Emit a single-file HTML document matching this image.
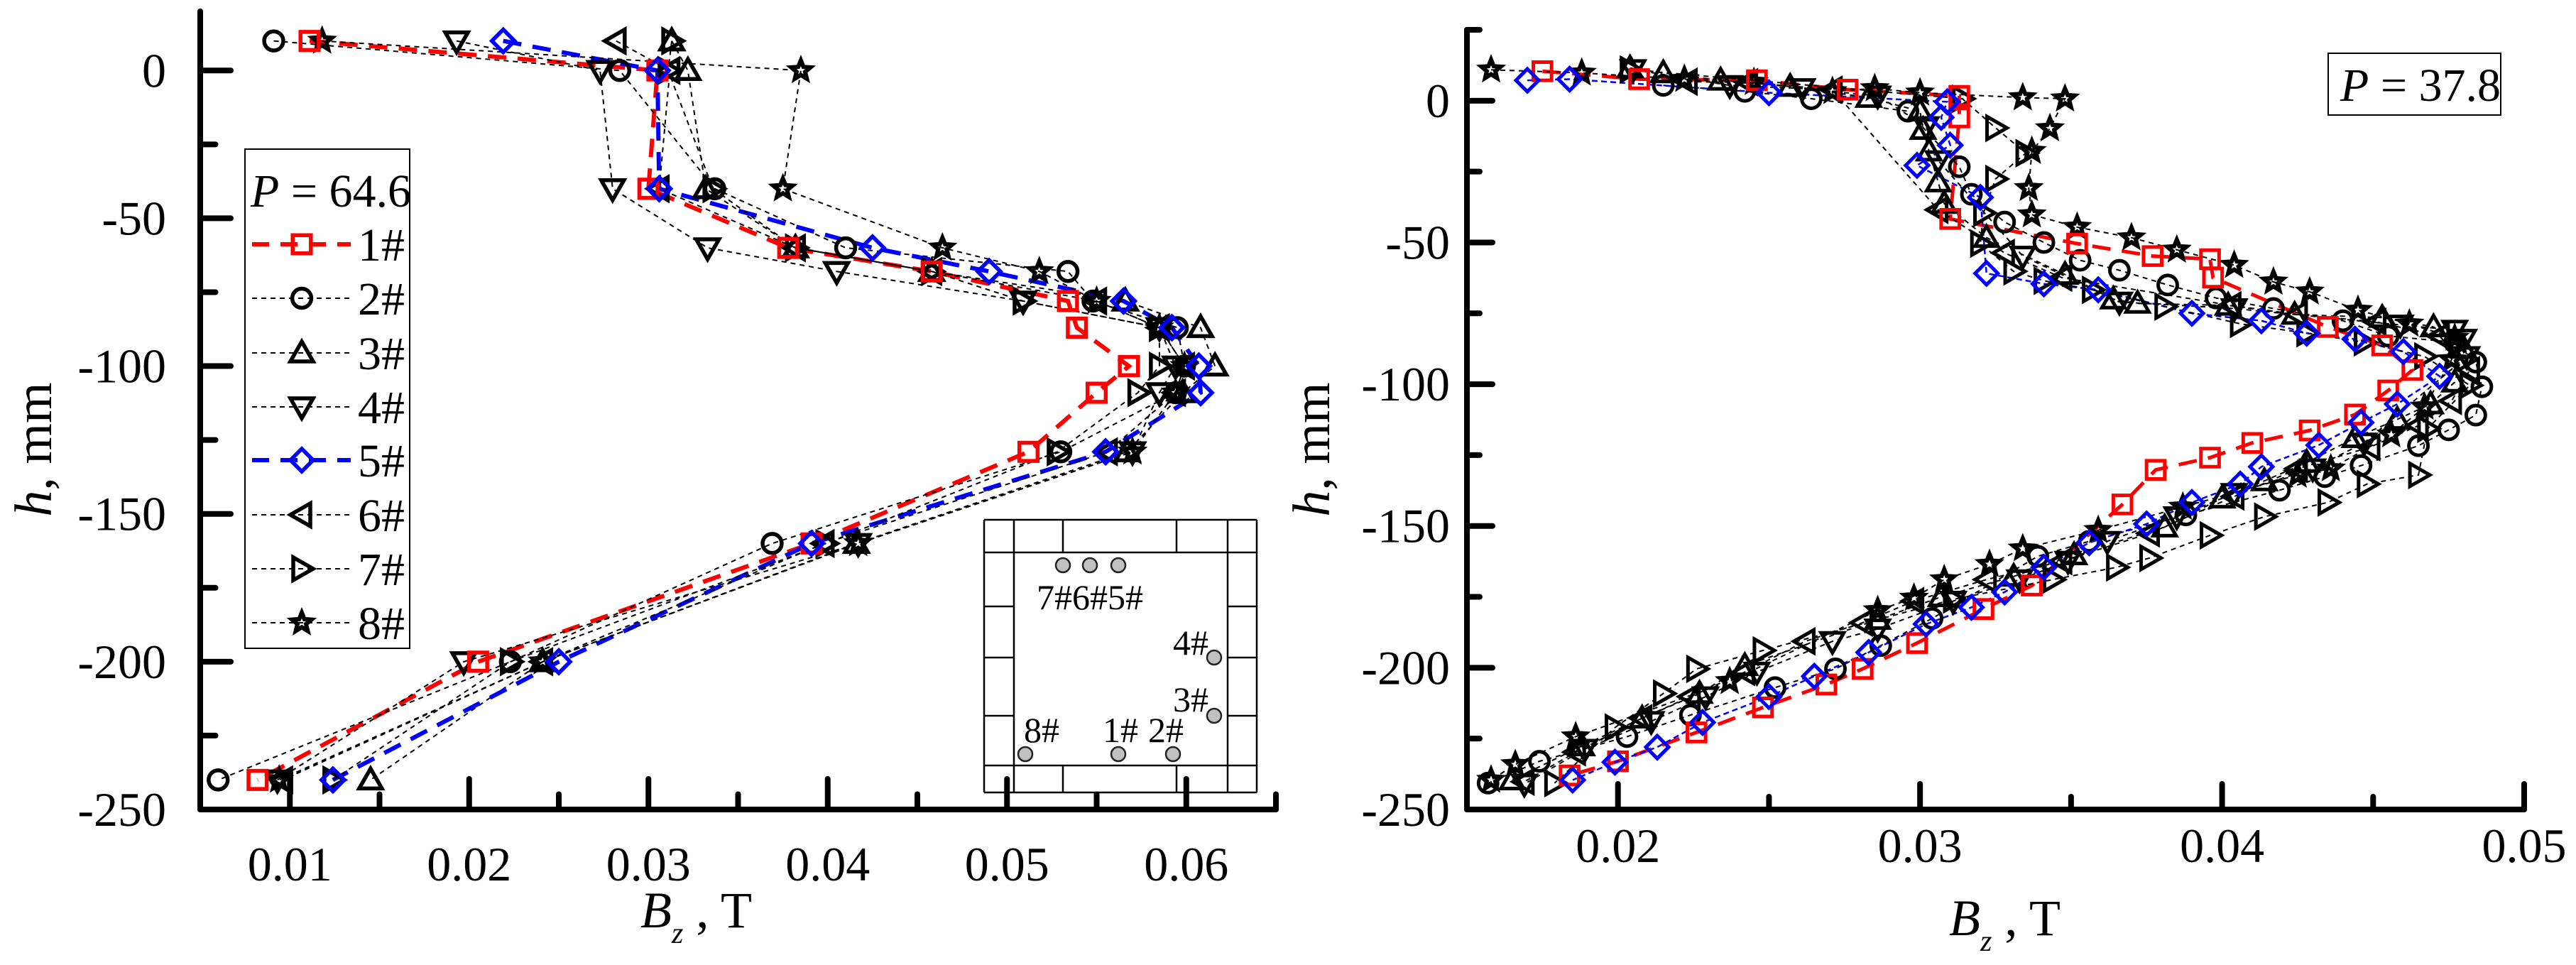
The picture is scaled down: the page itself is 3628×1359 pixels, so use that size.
<!DOCTYPE html>
<html><head><meta charset="utf-8"><style>
html,body{margin:0;padding:0;background:#fff;}
svg{display:block;font-family:"Liberation Serif",serif;}
text{font-family:"Liberation Serif",serif;}
</style></head><body>
<svg id="chart" width="3628" height="1359" viewBox="0 0 3628 1359" xmlns="http://www.w3.org/2000/svg" font-family="Liberation Serif, serif"></svg>
<script>
// ---------- LEFT PANEL DATA (P = 64.6) ----------
const leftSeriesNames = ["1#","2#","3#","4#","5#","6#","7#","8#"];
const leftH = [10,0,-40,-60,-68,-78,-87,-100,-109,-129,-160,-200,-240];
const leftB1 = [0.0111,0.0305,0.0300,0.0378,0.0458,0.0534,0.0539,0.0568,0.0550,0.0512,0.0391,0.0205,0.0082];
const leftB2 = [0.0091,0.0284,0.0337,0.0410,0.0534,0.0548,0.0595,0.0599,0.0594,0.0530,0.0369,0.0223,0.0060];
const leftB3 = [0.0313,0.0322,0.0332,0.0382,0.0458,0.0566,0.0608,0.0616,0.0598,0.0567,0.0416,0.0241,0.0145];
const leftB4 = [0.0193,0.0273,0.0280,0.0333,0.0405,0.0509,0.0585,0.0594,0.0585,0.0570,0.0417,0.0197,0.0093];
const leftB5 = [0.0219,0.0305,0.0306,0.0425,0.0490,0.0565,0.0592,0.0607,0.0608,0.0555,0.0391,0.0250,0.0124];
const leftB6 = [0.0282,0.0312,0.0306,0.0382,0.0458,0.0550,0.0585,0.0599,0.0594,0.0556,0.0398,0.0241,0.0096];
const leftB7 = [0.0313,0.0311,0.0336,0.0382,0.0458,0.0509,0.0585,0.0585,0.0573,0.0528,0.0399,0.0223,0.0124];
const leftB8 = [0.0118,0.0385,0.0375,0.0464,0.0518,0.0550,0.0585,0.0599,0.0594,0.0570,0.0417,0.0241,0.0094];
const leftXTicks = [0.01,0.02,0.03,0.04,0.05,0.06];
const leftXTickLabels = ["0.01","0.02","0.03","0.04","0.05","0.06"];
const leftYTicks = [0,-50,-100,-150,-200,-250];
const leftYTickLabels = ["0","-50","-100","-150","-200","-250"];

// ---------- RIGHT PANEL DATA (P = 37.8) ----------
const r1B = [0.0175,0.0207,0.0246,0.0276,0.0313,0.0313,0.0310,0.0352,0.0377,0.0396,0.0397,0.0435,0.0453,0.0463,0.0455,0.0444,0.0429,0.0410,0.0396,0.0378,0.0367,0.0337,0.0321,0.0299,0.0281,0.0269,0.0248,0.0226,0.0200,0.0184];
const r1H = [10.4,7.6,7.2,3.9,1.7,-5.9,-41.7,-50.4,-54.8,-55.9,-62.4,-79.8,-86.3,-95,-102.2,-110.7,-116.3,-120.7,-125.9,-130.2,-142.4,-171,-179.3,-191.3,-200.4,-205.9,-214,-222.8,-233,-238];
const r2B = [0.0215,0.0242,0.0264,0.0296,0.0313,0.0317,0.0328,0.0341,0.0353,0.0366,0.0382,0.0398,0.0417,0.0440,0.0455,0.0477,0.0484,0.0486,0.0484,0.0475,0.0465,0.0446,0.0434,0.0419,0.0388,0.0356,0.0339,0.0304,0.0287,0.0272,0.0252,0.0224,0.0203,0.0174,0.0157];
const r2H = [5.4,3.3,0.7,-3.7,-23.3,-33,-42.8,-50,-56.3,-59.8,-65,-69.6,-73.3,-77.6,-83,-85.2,-92.2,-100.9,-110.9,-116.1,-121.7,-128.7,-132.6,-137.4,-146.1,-155.4,-160.7,-182.6,-192.2,-200.4,-207,-216.7,-224.3,-233,-240.7];
const r3B = [0.0204,0.0215,0.0234,0.0257,0.0283,0.0300,0.0301,0.0303,0.0306,0.0308,0.0322,0.0348,0.0364,0.0372,0.0402,0.0424,0.0453,0.0470,0.0480,0.0477,0.0469,0.0458,0.0444,0.0428,0.0414,0.0400,0.0381,0.0351,0.0331,0.0307,0.0286,0.0242,0.0227,0.0208,0.0188,0.0165];
const r3H = [11.5,9.8,7.2,5,1.1,-3.7,-10.2,-17.8,-28.7,-36.3,-48.3,-61.3,-70,-71.5,-72.2,-75.4,-76.5,-79.8,-87.4,-99.3,-107,-112.4,-118.9,-127.6,-134.1,-140.2,-150.4,-160.2,-167.8,-175,-183,-199.3,-209.1,-217.8,-227.6,-239.6];
const r4B = [0.0205,0.0237,0.0261,0.0286,0.0302,0.0306,0.0334,0.0366,0.0404,0.0459,0.0477,0.0480,0.0481,0.0447,0.0430,0.0404,0.0385,0.0362,0.0349,0.0333,0.0311,0.0286,0.0271,0.0246,0.0229,0.0211,0.0189,0.0169];
const r4H = [11,5.4,4.3,1.7,-9.1,-21.1,-54.8,-71,-73.3,-79.1,-80.9,-84.1,-90.2,-120.7,-129.8,-138.5,-146.7,-155.4,-162.4,-168.9,-176.5,-186.3,-190.7,-201.5,-210.2,-218.9,-228.7,-241];
const r5B = [0.0170,0.0184,0.0250,0.0309,0.0307,0.0310,0.0299,0.0320,0.0322,0.0341,0.0359,0.0390,0.0413,0.0428,0.0444,0.0460,0.0472,0.0458,0.0446,0.0432,0.0413,0.0406,0.0390,0.0375,0.0356,0.0341,0.0328,0.0317,0.0302,0.0283,0.0265,0.0250,0.0228,0.0213,0.0199,0.0185];
const r5H = [7.2,7.6,2.8,-0.4,-5.9,-15.7,-22.8,-34.1,-60.9,-64.6,-66.7,-75,-77.6,-82,-84.1,-88.5,-97.2,-107,-113.5,-121.5,-129.1,-135.2,-141.7,-149.3,-155.9,-164.6,-173.3,-178.7,-184.6,-194.6,-203,-210.2,-219.3,-228,-233.3,-239.6];
const r6B = [0.0223,0.0243,0.0271,0.0306,0.0328,0.0347,0.0403,0.0425,0.0451,0.0472,0.0482,0.0476,0.0465,0.0449,0.0425,0.0404,0.0376,0.0347,0.0322,0.0298,0.0281,0.0262,0.0242,0.0224,0.0208,0.0186,0.0169];
const r6H = [6.7,6.5,3.9,-38.5,-53.7,-62.4,-72.2,-75.4,-78,-83,-95,-105.9,-114.6,-122.2,-129.8,-139.6,-152.6,-162.4,-168.9,-176.5,-184.1,-190.7,-201.5,-210.2,-217.8,-229.8,-240.2];
const r7B = [0.0204,0.0314,0.0325,0.0335,0.0325,0.0321,0.0320,0.0331,0.0341,0.0357,0.0381,0.0406,0.0428,0.0447,0.0467,0.0482,0.0468,0.0465,0.0448,0.0435,0.0414,0.0396,0.0376,0.0365,0.0344,0.0311,0.0248,0.0226,0.0215,0.0199,0.0179];
const r7H = [11,0.7,-9.6,-18.5,-27.6,-39.6,-50.4,-60.2,-63.5,-66.7,-72.6,-78.7,-82,-85.2,-90.2,-100.4,-115.7,-132,-135.2,-141.7,-146.7,-153.3,-161.3,-164.6,-168.9,-175.9,-193.9,-200.4,-209.1,-221.1,-240.7];
const r8B = [0.0158,0.0188,0.0222,0.0245,0.0271,0.0285,0.0300,0.0334,0.0348,0.0343,0.0337,0.0336,0.0337,0.0352,0.0370,0.0385,0.0404,0.0417,0.0429,0.0445,0.0462,0.0477,0.0476,0.0467,0.0456,0.0436,0.0425,0.0387,0.0359,0.0334,0.0323,0.0308,0.0298,0.0286,0.0237,0.0186,0.0166,0.0158];
const r8H = [10.9,9.8,7.6,6.5,3.3,4.3,2.8,1.1,0.7,-9.8,-17.8,-30.9,-40.2,-44.6,-48.3,-52.6,-58,-63.9,-67.4,-73.9,-78.7,-83.7,-91.3,-108,-117.8,-129.8,-132,-143.3,-151.5,-158,-163.5,-168.9,-175.4,-179.8,-204.8,-224.3,-234.1,-239.6];
const rightXTicks = [0.02,0.03,0.04,0.05];
const rightXTickLabels = ["0.02","0.03","0.04","0.05"];
const rightYTicks = [0,-50,-100,-150,-200,-250];
const rightYTickLabels = ["0","-50","-100","-150","-200","-250"];

// ---------- helpers ----------
const NS = "http://www.w3.org/2000/svg";
const FONT = "Liberation Serif, serif";
const svg = document.getElementById("chart");
function mk(tag, attrs, parent){
  const e = document.createElementNS(NS, tag);
  for (const k in attrs) e.setAttribute(k, attrs[k]);
  (parent||svg).appendChild(e);
  return e;
}
function markerPath(shape, x, y, s){
  const r = s/2;
  switch(shape){
    case "square": return `M${x-r*0.8},${y-r*0.8}h${1.6*r}v${1.6*r}h${-1.6*r}Z`;
    case "up": return `M${x},${y-r}L${x+r},${y+r*0.75}L${x-r},${y+r*0.75}Z`;
    case "down": return `M${x},${y+r}L${x+r},${y-r*0.75}L${x-r},${y-r*0.75}Z`;
    case "left": return `M${x-r},${y}L${x+r*0.75},${y-r}L${x+r*0.75},${y+r}Z`;
    case "right": return `M${x+r},${y}L${x-r*0.75},${y-r}L${x-r*0.75},${y+r}Z`;
    case "diamond": return `M${x},${y-r}L${x+r},${y}L${x},${y+r}L${x-r},${y}Z`;
    case "star": {
      let d=""; for(let i=0;i<10;i++){const a=-Math.PI/2+i*Math.PI/5; const rr=i%2?r*0.42:r*0.95; d+=(i?"L":"M")+(x+rr*Math.cos(a)).toFixed(1)+","+(y+rr*Math.sin(a)).toFixed(1);} return d+"Z";
    }
  }
  return "";
}
const shapes = ["square","circle","up","down","diamond","left","right","star"];
const colors = ["#ff0000","#000","#000","#000","#0000ff","#000","#000","#000"];

function drawMarker(g, shape, x, y, s, color, sw){
  let m;
  if (shape==="circle") m = mk("circle",{cx:x,cy:y,r:s*0.42,fill:"none",stroke:color,"stroke-width":sw},g);
  else m = mk("path",{d:markerPath(shape,x,y,s),fill:"none",stroke:color,"stroke-width":sw,"stroke-linejoin":"miter"},g);
  
  
  return m;
}

function text(str, x, y, size, anchor, parent, name, extra){
  const t = mk("text",Object.assign({x:x,y:y,"font-size":size,"font-family":FONT,"text-anchor":anchor||"start",fill:"#000"},extra||{}),parent);
  t.textContent = str;
  
  
  return t;
}

// ---------- panel drawer ----------
function panel(cfg){
  const g = mk("g",{});
  
  
  const sx = v => cfg.x0 + (v-cfg.xmin)/(cfg.xmax-cfg.xmin)*(cfg.x1-cfg.x0);
  const sy = v => cfg.yb + (v-cfg.ymin)/(cfg.ymax-cfg.ymin)*(cfg.yt-cfg.yb);
  cfg.series.forEach((s,i)=>{
    const pts = s.b.map((b,j)=>sx(b).toFixed(1)+","+sy(s.h[j]).toFixed(1)).join(" ");
    let style;
    if (i===0) style = {stroke:"#ff0000","stroke-width":cfg.blueThick?6:5,"stroke-dasharray":"26,16"};
    else if (i===4) style = cfg.blueThick ? {stroke:"#0000ff","stroke-width":6,"stroke-dasharray":"26,16"} : {stroke:"#0000ff","stroke-width":2.5,"stroke-dasharray":"8,5"};
    else style = {stroke:"#000","stroke-width":2,"stroke-dasharray":"7,6"};
    const pl = mk("polyline",Object.assign({points:pts,fill:"none"},style),g);
    
    
  });
  const order=[1,2,3,5,6,7,0,4];
  order.forEach(i=>{
    const s = cfg.series[i];
    s.b.forEach((b,j)=>{
      drawMarker(g, shapes[i], sx(b), sy(s.h[j]), shapes[i]==="star"?30:cfg.ms, colors[i], shapes[i]==="star"?6:cfg.msw);
    });
  });
  const ax = mk("path",{d:`M${cfg.x0},${cfg.yt}V${cfg.yb}H${cfg.x1}`,fill:"none",stroke:"#000","stroke-width":8,"stroke-linecap":"round","stroke-linejoin":"round"},g);
  
  
  for (let v=cfg.ymin; v<=cfg.ymax+0.001; v+=25){
    const major = Math.round(v)%50===0;
    const t = mk("line",{x1:cfg.x0,x2:cfg.x0+(major?cfg.tl:cfg.tl*0.5),y1:sy(v),y2:sy(v),stroke:"#000","stroke-width":8,"stroke-linecap":"round"},g);
    
    
  }
  cfg.yTicks.forEach((v,i)=>{ text(cfg.yLabels[i], cfg.x0-cfg.ylOff, sy(v)+23, 68, "end", g, "y-tick-label"); });
  const step=0.005;
  for (let k=Math.ceil(cfg.xmin/step-1e-6); k*step<=cfg.xmax+1e-9; k++){
    const v=k*step; const major = k%2===0;
    if (Math.abs(sx(v)-cfg.x0)<3) continue;
    const t = mk("line",{x1:sx(v),x2:sx(v),y1:cfg.yb,y2:cfg.yb-(major?cfg.tl:cfg.tl*0.5),stroke:"#000","stroke-width":8,"stroke-linecap":"round"},g);
    
    
  }
  cfg.xTicks.forEach((v,i)=>{ text(cfg.xLabels[i], sx(v), cfg.xlY, 68, "middle", g, "x-tick-label"); });
  const xt = mk("text",{x:cfg.xtX,y:cfg.xtY,"font-size":72,"font-family":FONT,fill:"#000"},g);
  
  
  xt.innerHTML = '<tspan font-style="italic">B</tspan><tspan font-style="italic" font-size="42" dy="22">z</tspan><tspan dy="-22"> , T</tspan>';
  const yt = mk("text",{x:0,y:0,"font-size":74,"font-family":FONT,fill:"#000","text-anchor":"middle",transform:`translate(${cfg.ytX},${cfg.ytY}) rotate(-90)`},g);
  
  
  yt.innerHTML = '<tspan font-style="italic">h</tspan>, mm';
  return {g,sx,sy};
}

// ---------- LEFT ----------
const leftAll=[leftB1,leftB2,leftB3,leftB4,leftB5,leftB6,leftB7,leftB8];
const L = panel({name:"left-panel-p64",x0:282,x1:1797,yt:16,yb:1140,xmin:0.005,xmax:0.065,ymin:-250,ymax:20,
  series:leftAll.map(b=>({b:b,h:leftH})), ms:32, msw:5.5, blueThick:true, tl:43, ylOff:48,
  yTicks:leftYTicks,yLabels:leftYTickLabels,xTicks:leftXTicks,xLabels:leftXTickLabels,xlY:1240,
  xtX:902,xtY:1306,ytX:72,ytY:633});

// legend
const lg = mk("g",{});


const lb = mk("rect",{x:345,y:210,width:232,height:703,fill:"#fff",stroke:"#000","stroke-width":2},lg);


const pt = mk("text",{x:353,y:291,"font-size":66,"font-family":FONT,fill:"#000"},lg);


pt.innerHTML='<tspan font-style="italic">P</tspan> = 64.6';
const legY=[344,420,497,573,648,725,801,877];
leftSeriesNames.forEach((n,i)=>{
  const e = mk("g",{},lg);
  
  
  let st = (i===0)?{stroke:"#ff0000","stroke-width":6,"stroke-dasharray":"24,16"}:(i===4)?{stroke:"#0000ff","stroke-width":6,"stroke-dasharray":"24,16"}:{stroke:"#000","stroke-width":2,"stroke-dasharray":"7,6"};
  const ln = mk("line",Object.assign({x1:355,x2:494,y1:legY[i],y2:legY[i]},st),e);
  
  
  drawMarker(e, shapes[i], 425, legY[i], shapes[i]==="star"?30:32, colors[i], shapes[i]==="star"?6:5.5);
  text(n, 570, legY[i]+23, 66, "end", e, "legend-label");
});

// inset diagram
const ins = mk("g",{});


const insLines = [
  [1386,732,1770,732],[1770,732,1770,1116],[1770,1116,1386,1116],[1386,1116,1386,732],
  [1428,732,1428,1116],[1729,732,1729,1116],[1386,778,1770,778],[1386,1078,1770,1078],
  [1497,732,1497,778],[1657,732,1657,778],[1497,1078,1497,1116],[1657,1078,1657,1116],
  [1386,854,1428,854],[1386,926,1428,926],[1386,1008,1428,1008],
  [1729,854,1770,854],[1729,926,1770,926],[1729,1008,1770,1008]];
insLines.forEach(l=>{const e=mk("line",{x1:l[0],y1:l[1],x2:l[2],y2:l[3],stroke:"#000","stroke-width":2.5},ins);
  
  });
[[1497,796],[1535,796],[1575,796],[1710,926],[1710,1008],[1444,1062],[1575,1062],[1652,1062]].forEach(c=>{
  const e=mk("circle",{cx:c[0],cy:c[1],r:10,fill:"#c0c0c0",stroke:"#222","stroke-width":2.5},ins);
  
  });
text("7#6#5#",1460,858,50,"start",ins,"inset-label-top");
text("4#",1652,922,50,"start",ins,"inset-label-4");
text("3#",1652,1002,50,"start",ins,"inset-label-3");
text("8#",1442,1045,50,"start",ins,"inset-label-8");
text("1#",1553,1045,50,"start",ins,"inset-label-1");
text("2#",1617,1045,50,"start",ins,"inset-label-2");

// ---------- RIGHT ----------
const rightAll=[{b:r1B,h:r1H},{b:r2B,h:r2H},{b:r3B,h:r3H},{b:r4B,h:r4H},{b:r5B,h:r5H},{b:r6B,h:r6H},{b:r7B,h:r7H},{b:r8B,h:r8H}];
const R = panel({name:"right-panel-p37",x0:2066,x1:3555,yt:42,yb:1140,xmin:0.015,xmax:0.05,ymin:-250,ymax:25,
  series:rightAll, ms:32, msw:5, blueThick:false, tl:36, ylOff:24,
  yTicks:rightYTicks,yLabels:rightYTickLabels,xTicks:rightXTicks,xLabels:rightXTickLabels,xlY:1214,
  xtX:2745,xtY:1317,ytX:1872,ytY:633});
const pb = mk("rect",{x:3279,y:75,width:243,height:87,fill:"#fff",stroke:"#000","stroke-width":2});


const pt2 = mk("text",{x:3296,y:142,"font-size":66,"font-family":FONT,fill:"#000"});


pt2.innerHTML='<tspan font-style="italic">P</tspan> = 37.8';
</script>
</body></html>
